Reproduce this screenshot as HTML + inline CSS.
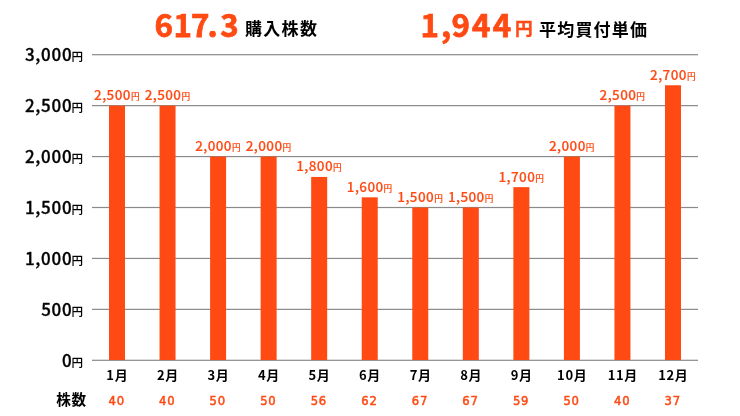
<!DOCTYPE html>
<html><head><meta charset="utf-8"><style>
html,body{margin:0;padding:0;background:#fff;}
body{width:740px;height:416px;position:relative;overflow:hidden;font-family:"Liberation Sans","Noto Sans CJK JP",sans-serif;}
.ch{position:absolute;left:0;top:0;}
#w{position:absolute;left:0;top:0;width:740px;height:416px;will-change:transform;}
.yl{position:absolute;right:657.1px;font-family:"Noto Sans CJK JP",sans-serif;font-weight:500;font-size:17px;letter-spacing:0.7px;line-height:24px;color:#000;white-space:nowrap;-webkit-text-stroke:0.35px #111;}
.yl span{font-size:11.5px;letter-spacing:0;position:relative;top:0px;margin-left:-0.9px;-webkit-text-stroke:0.1px #111;}
.vl{position:absolute;width:80px;text-align:center;font-family:"Noto Sans CJK JP",sans-serif;font-weight:500;font-size:13.5px;letter-spacing:0.4px;line-height:18px;color:#ff4a14;white-space:nowrap;-webkit-text-stroke:0.15px #ff4a14;}
.vl span{font-size:8.6px;letter-spacing:0;}
.ml{position:absolute;top:365.6px;width:60px;text-align:center;letter-spacing:0.6px;text-indent:0.6px;font-family:"Noto Sans CJK JP",sans-serif;font-weight:700;font-size:13px;line-height:18px;color:#000;}
.cl{position:absolute;top:392.3px;width:60px;text-align:center;font-family:"DejaVu Sans",sans-serif;font-weight:400;font-size:11.6px;letter-spacing:0.8px;text-indent:0.8px;line-height:18px;color:#ff4a14;-webkit-text-stroke:0.5px #ff4a14;}
.t{position:absolute;top:4px;font-family:"Noto Sans CJK JP",sans-serif;font-weight:700;white-space:nowrap;line-height:40px;}
.bigs{font-family:"Noto Sans CJK JP",sans-serif;font-weight:700;font-size:31.3px;fill:#ff4a14;stroke:#ff4a14;stroke-width:0.75px;}
.lbl{font-size:17px;color:#000;letter-spacing:1.3px;}
.yen{font-size:17.6px;color:#ff4a14;-webkit-text-stroke:0.45px #ff4a14;}
.kabu{position:absolute;left:56.2px;top:386.8px;font-family:"Noto Sans CJK JP",sans-serif;font-weight:700;font-size:14.6px;letter-spacing:0.7px;line-height:24px;color:#000;}
</style></head><body><div id="w">
<svg class="ch" width="740" height="50" viewBox="0 0 740 50"><text class="bigs" x="154.4 173.6 191 207.5 220.3" y="37">617.3</text><text class="bigs" x="420.6 441 451.4 471.9 492.7" y="37">1,944</text></svg>
<div class="t lbl" style="left:245px;top:7.8px">購入株数</div>
<div class="t yen" style="left:515px;top:8px">円</div>
<div class="t lbl" style="left:539px;top:9px;letter-spacing:1.2px">平均買付単価</div>
<svg class="ch" width="740" height="416" viewBox="0 0 740 416"><rect x="92" y="54.100" width="606" height="1.2" fill="#8a8a8a"/><rect x="92" y="105.033" width="606" height="1.2" fill="#8a8a8a"/><rect x="92" y="155.967" width="606" height="1.2" fill="#8a8a8a"/><rect x="92" y="206.900" width="606" height="1.2" fill="#8a8a8a"/><rect x="92" y="257.833" width="606" height="1.2" fill="#8a8a8a"/><rect x="92" y="308.767" width="606" height="1.2" fill="#8a8a8a"/><rect x="92" y="359.700" width="606" height="1.2" fill="#8a8a8a"/><rect x="109.000" y="105.633" width="16" height="254.367" fill="#ff4a14"/><rect x="159.545" y="105.633" width="16" height="254.367" fill="#ff4a14"/><rect x="210.090" y="156.567" width="16" height="203.433" fill="#ff4a14"/><rect x="260.635" y="156.567" width="16" height="203.433" fill="#ff4a14"/><rect x="311.180" y="176.940" width="16" height="183.060" fill="#ff4a14"/><rect x="361.725" y="197.313" width="16" height="162.687" fill="#ff4a14"/><rect x="412.270" y="207.500" width="16" height="152.500" fill="#ff4a14"/><rect x="462.815" y="207.500" width="16" height="152.500" fill="#ff4a14"/><rect x="513.360" y="187.127" width="16" height="172.873" fill="#ff4a14"/><rect x="563.905" y="156.567" width="16" height="203.433" fill="#ff4a14"/><rect x="614.450" y="105.633" width="16" height="254.367" fill="#ff4a14"/><rect x="664.995" y="85.260" width="16" height="274.740" fill="#ff4a14"/></svg><div class="yl" style="top:42px">3,000<span>円</span></div><div class="yl" style="top:93px">2,500<span>円</span></div><div class="yl" style="top:144px">2,000<span>円</span></div><div class="yl" style="top:195px">1,500<span>円</span></div><div class="yl" style="top:246px">1,000<span>円</span></div><div class="yl" style="top:297px">500<span>円</span></div><div class="yl" style="top:348px">0<span>円</span></div><div class="vl" style="left:76.80px;top:85px">2,500<span>円</span></div><div class="ml" style="left:87.00px">1月</div><div class="cl" style="left:86.30px">40</div><div class="vl" style="left:127.35px;top:85px">2,500<span>円</span></div><div class="ml" style="left:137.55px">2月</div><div class="cl" style="left:136.85px">40</div><div class="vl" style="left:177.89px;top:136px">2,000<span>円</span></div><div class="ml" style="left:188.09px">3月</div><div class="cl" style="left:187.39px">50</div><div class="vl" style="left:228.44px;top:136px">2,000<span>円</span></div><div class="ml" style="left:238.63px">4月</div><div class="cl" style="left:237.94px">50</div><div class="vl" style="left:278.98px;top:156px">1,800<span>円</span></div><div class="ml" style="left:289.18px">5月</div><div class="cl" style="left:288.48px">56</div><div class="vl" style="left:329.53px;top:177px">1,600<span>円</span></div><div class="ml" style="left:339.73px">6月</div><div class="cl" style="left:339.03px">62</div><div class="vl" style="left:380.07px;top:187px">1,500<span>円</span></div><div class="ml" style="left:390.27px">7月</div><div class="cl" style="left:389.57px">67</div><div class="vl" style="left:430.62px;top:187px">1,500<span>円</span></div><div class="ml" style="left:440.81px">8月</div><div class="cl" style="left:440.12px">67</div><div class="vl" style="left:481.16px;top:167px">1,700<span>円</span></div><div class="ml" style="left:491.36px">9月</div><div class="cl" style="left:490.66px">59</div><div class="vl" style="left:531.70px;top:136px">2,000<span>円</span></div><div class="ml" style="left:541.90px">10月</div><div class="cl" style="left:541.20px">50</div><div class="vl" style="left:582.25px;top:85px">2,500<span>円</span></div><div class="ml" style="left:592.45px">11月</div><div class="cl" style="left:591.75px">40</div><div class="vl" style="left:632.79px;top:65px">2,700<span>円</span></div><div class="ml" style="left:643.00px">12月</div><div class="cl" style="left:642.29px">37</div>
<div class="kabu">株数</div>
</div></body></html>
